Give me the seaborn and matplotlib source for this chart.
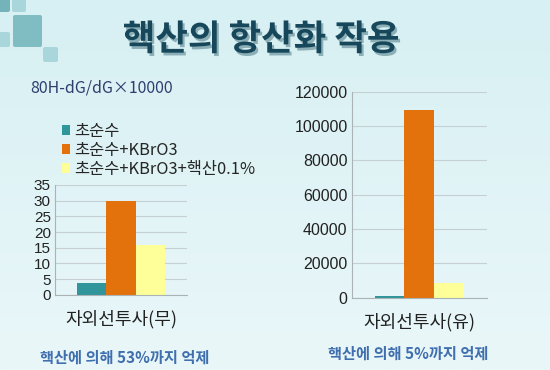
import numpy as np
import pandas as pd
import matplotlib
matplotlib.use("Agg")
import matplotlib.pyplot as plt
import matplotlib.patheffects as pe
from matplotlib.patches import FancyBboxPatch, Patch
import seaborn as sns

# data
groups = ["초순수", "초순수+KBrO3", "초순수+KBrO3+핵산0.1%"]
uv_off_label = "자외선투사(무)"
uv_on_label = "자외선투사(유)"
uv_off_values = [3.8, 30, 16]
uv_on_values = [1100, 109500, 8500]
uv_off_ticks = [0, 5, 10, 15, 20, 25, 30, 35]
uv_on_ticks = [0, 20000, 40000, 60000, 80000, 100000, 120000]
colors = ["#31969b", "#e3720c", "#ffff99"]

sns.set_style("white")
plt.rcParams["font.family"] = ["Noto Sans CJK KR", "DejaVu Sans"]

fig = plt.figure(figsize=(5.5, 3.7), dpi=100)

# background gradient
bg = fig.add_axes([0, 0, 1, 1])
grad = np.linspace(0, 1, 256).reshape(-1, 1)
cmap = matplotlib.colors.LinearSegmentedColormap.from_list("bg", ["#d7f0f3", "#eaf7f9"])
bg.imshow(grad, aspect="auto", cmap=cmap, extent=[0, 550, 370, 0])
bg.set_xlim(0, 550)
bg.set_ylim(370, 0)
bg.axis("off")

# decorative squares top left
for (x, y, w, h, c) in [(-4, -4, 14, 16, "#74b3ba"), (12, -4, 14, 16, "#a9d6db"),
                        (13, 15, 29, 32, "#80bdc3"), (-4, 32, 14, 15, "#a9d6db"),
                        (43, 47, 15, 15, "#a9d6db")]:
    bg.add_patch(FancyBboxPatch((x, y), w, h, boxstyle="round,pad=0,rounding_size=2",
                                fc=c, ec="none"))

fig.text(0.475, 0.893, "핵산의 항산화 작용", ha="center", va="center", fontsize=25.5,
         fontweight="bold", color="#17475a",
         path_effects=[pe.withSimplePatchShadow(offset=(1.5, -2), shadow_rgbFace="#5a8590", alpha=0.6)])

fig.text(0.055, 0.762, "80H-dG/dG×10000", ha="left", va="center", fontsize=11.5,
         color="#2d3f6e", fontweight="medium")


def draw(ax, label, values, ticks, tick_size):
    df = pd.DataFrame({"cond": [label] * len(groups), "group": groups, "value": values})
    sns.barplot(data=df, x="cond", y="value", hue="group", hue_order=groups,
                palette=colors, saturation=1, width=0.66, ax=ax, legend=False)
    ax.set_facecolor("none")
    ax.set_xlim(-0.5, 0.5)
    ax.set_ylim(ticks[0], ticks[-1])
    ax.set_yticks(ticks)
    ax.set_yticklabels([str(t) for t in ticks], fontsize=tick_size, color="#222222",
                       family=["Liberation Sans", "DejaVu Sans"])
    ax.yaxis.grid(True, color="#c6cfd2", linewidth=0.8)
    ax.set_axisbelow(True)
    ax.set_xlabel("")
    ax.set_ylabel("")
    ax.set_xticks([0])
    ax.set_xticklabels([label], fontsize=13, color="#222222")
    ax.tick_params(axis="x", length=0, pad=11)
    ax.tick_params(axis="y", length=0, pad=3)
    ax.set_xticks([-0.5, 0.5], minor=True)
    ax.tick_params(axis="x", which="minor", length=4, color="#aab4b7")
    for s in ["top", "right"]:
        ax.spines[s].set_visible(False)
    for s in ["left", "bottom"]:
        ax.spines[s].set_color("#aab4b7")
        ax.spines[s].set_linewidth(0.8)
    for p in ax.patches:
        p.set_edgecolor("none")


ax1 = fig.add_axes([0.1, 0.203, 0.24, 0.297])
draw(ax1, uv_off_label, uv_off_values, uv_off_ticks, 11)

ax2 = fig.add_axes([0.6394, 0.1954, 0.2455, 0.557])
draw(ax2, uv_on_label, uv_on_values, uv_on_ticks, 11.5)

handles = [Patch(facecolor=c, edgecolor="none") for c in colors]
fig.legend(handles, groups, loc="upper left", bbox_to_anchor=(0.097, 0.69),
           frameon=False, fontsize=11.8, handlelength=0.5, handleheight=0.5,
           handletextpad=0.25, labelspacing=0.12, borderpad=0)

fig.text(0.072, 0.033, "핵산에 의해 53%까지 억제", ha="left", va="center", fontsize=11,
         fontweight="bold", color="#3f6fae")
fig.text(0.596, 0.043, "핵산에 의해 5%까지 억제", ha="left", va="center", fontsize=11,
         fontweight="bold", color="#3f6fae")

fig.savefig("out.png", dpi=100)
